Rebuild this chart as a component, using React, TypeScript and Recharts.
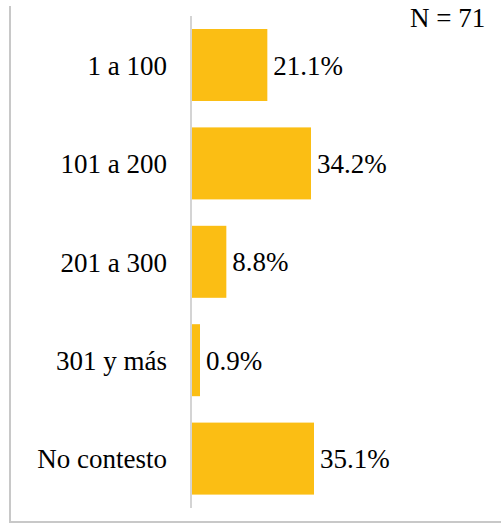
import React from 'react';
import { BarChart, Bar, XAxis, YAxis, LabelList } from 'recharts';

const categories = ['1 a 100', '101 a 200', '201 a 300', '301 y más', 'No contesto'];
const percentages = [21.1, 34.2, 8.8, 0.9, 35.1];
const sampleNote = 'N = 71';

const data = categories.map((c, i) => ({ name: c, value: percentages[i] }));

const FONT = '"Liberation Serif", "Times New Roman", serif';
const BAR_COLOR = '#FBBE14';

const BarShape = (props: any) => {
  const { x, y, width, height, background } = props;
  const left = background ? background.x : x;
  return <rect x={left} y={y} width={x + width - left} height={height} fill={BAR_COLOR} />;
};

export default function App() {
  return (
    <div style={{ position: 'absolute', left: 0, top: 0, width: 501, height: 532, background: '#fff' }}>
      <div
        style={{
          position: 'absolute',
          left: 9,
          top: 6,
          width: 520,
          height: 515,
          borderLeft: '2px solid #c8c8c8',
          borderBottom: '2px solid #c8c8c8',
        }}
      />
      <div
        style={{
          position: 'absolute',
          left: 410,
          top: 5,
          fontFamily: FONT,
          fontSize: 27,
          lineHeight: '27px',
          color: '#000',
          whiteSpace: 'nowrap',
        }}
      >
        {sampleNote}
      </div>
      <div style={{ position: 'absolute', left: 0, top: 0 }}>
        <BarChart
          width={501}
          height={532}
          data={data}
          layout="vertical"
          margin={{ top: 16, right: 172, bottom: 24, left: 0 }}
          barCategoryGap={13}
        >
          <XAxis type="number" domain={[-1.8, 39.6]} hide />
          <YAxis
            type="category"
            dataKey="name"
            width={191}
            tickLine={false}
            tickSize={0}
            tickMargin={24}
            axisLine={{ stroke: '#d4d4d4', strokeWidth: 2 }}
            tick={{ fontFamily: FONT, fontSize: 27, fill: '#000' }}
            interval={0}
          />
          <Bar dataKey="value" isAnimationActive={false} shape={<BarShape />} background={{ fill: 'transparent' }}>
            <LabelList
              dataKey="value"
              position="right"
              offset={6}
              formatter={(v: any) => `${Number(v).toFixed(1)}%`}
              style={{ fontFamily: FONT, fontSize: 27, fill: '#000' }}
            />
          </Bar>
        </BarChart>
      </div>
    </div>
  );
}
